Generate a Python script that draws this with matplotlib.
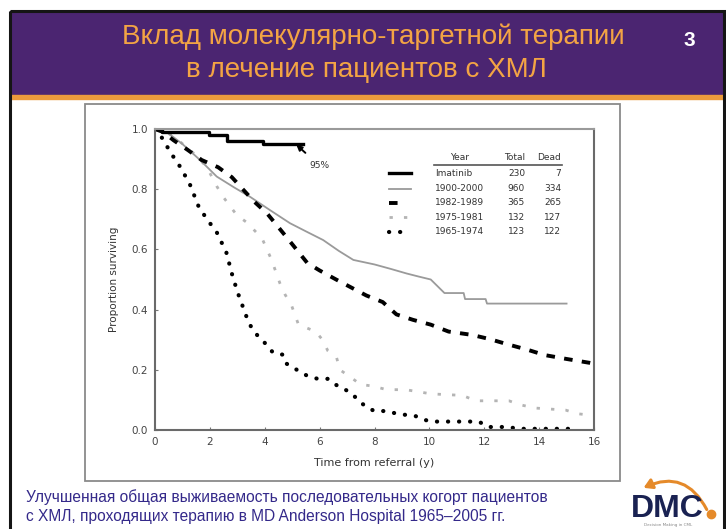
import matplotlib.pyplot as plt
from matplotlib.patches import Rectangle, FancyArrowPatch

# Kaplan-Meier style survival by cohort: years from referral vs proportion surviving
imatinib_t = [0, 0.25, 1.95, 2.61, 3.95, 5.41]
imatinib_s = [1.0, 0.99, 0.981, 0.961, 0.951, 0.951]

c1990_t = [0, 0.5, 1.0, 1.64, 2.25, 2.9, 3.46, 4.2, 4.92, 5.5, 6.13, 6.7, 7.23, 8.0, 8.6, 9.17,
           9.6, 10.05, 10.55, 11.25, 11.3, 12.05, 12.1, 15.0]
c1990_s = [1.0, 0.985, 0.95, 0.897, 0.842, 0.805, 0.775, 0.73, 0.687, 0.66, 0.631, 0.595, 0.565,
           0.55, 0.535, 0.52, 0.51, 0.50, 0.455, 0.455, 0.435, 0.435, 0.42, 0.42]

c1982_t = [0, 0.3, 0.67, 1.2, 1.7, 2.3, 2.8, 3.2, 3.6, 4.08, 4.8, 5.55, 6.0, 6.6, 7.7, 8.3, 8.8,
           9.4, 10.05, 10.7, 11.55, 12.2, 12.8, 13.6, 14.2, 15.0, 15.85, 16.0]
c1982_s = [1.0, 0.99, 0.963, 0.93, 0.897, 0.873, 0.84, 0.80, 0.76, 0.72, 0.64, 0.555, 0.53, 0.50,
           0.447, 0.425, 0.384, 0.366, 0.35, 0.327, 0.316, 0.302, 0.286, 0.266, 0.249, 0.236,
           0.223, 0.22]

c1975_t = [0, 0.5, 0.91, 1.4, 1.88, 2.25, 2.48, 2.98, 3.34, 3.9, 4.25, 4.55, 4.74, 4.98, 5.23,
           5.86, 6.1, 6.3, 6.62, 6.74, 7.1, 7.5, 7.94, 8.44, 9.13, 10.07, 11.2, 11.7, 12.9, 13.3,
           13.85, 14.97, 15.4, 16.0]
c1975_s = [1.0, 0.985, 0.958, 0.92, 0.875, 0.81, 0.775, 0.714, 0.69, 0.637, 0.565, 0.488, 0.45,
           0.413, 0.35, 0.327, 0.30, 0.263, 0.24, 0.20, 0.177, 0.151, 0.146, 0.134, 0.134, 0.12,
           0.115, 0.097, 0.097, 0.084, 0.073, 0.066, 0.054, 0.048]

c1965_t = [0, 0.26, 0.58, 0.95, 1.28, 1.6, 1.9, 2.26, 2.6, 2.8, 3.0, 3.2, 3.4, 3.6, 3.91, 4.1,
           4.3, 4.67, 4.8, 5.17, 5.55, 5.93, 6.3, 6.55, 6.87, 7.18, 7.5, 7.75, 8.0, 8.44, 8.82,
           9.5, 9.8, 10.12, 11.8, 12.15, 12.9, 13.2, 15.3]
c1965_s = [1.0, 0.97, 0.92, 0.87, 0.814, 0.74, 0.70, 0.655, 0.59, 0.52, 0.46, 0.41, 0.36, 0.327,
           0.298, 0.28, 0.257, 0.25, 0.22, 0.20, 0.18, 0.17, 0.17, 0.152, 0.138, 0.12, 0.091,
           0.074, 0.063, 0.063, 0.054, 0.046, 0.034, 0.028, 0.028, 0.01, 0.01, 0.004, 0.004]

years = ["Imatinib", "1900-2000", "1982-1989", "1975-1981", "1965-1974"]
totals = [230, 960, 365, 132, 123]
deaths = [7, 334, 265, 127, 122]

styles = [
    dict(color="black", lw=2.4, ls="-", drawstyle="steps-post"),
    dict(color="#9a9a9a", lw=1.3, ls="-"),
    dict(color="black", lw=2.8, ls=(0, (2.2, 2.4))),
    dict(color="#b4b4b4", lw=2.0, ls=(0, (1.2, 4.0))),
    dict(color="black", lw=3.0, ls=(0, (0.05, 2.6)), dash_capstyle="round"),
]
# how long each line sample in the table is (px)
sample_len = [22, 22, 13, 22, 18]

W, H = 726, 529
fig = plt.figure(figsize=(W / 100, H / 100), dpi=100)
fam = ["Liberation Sans Narrow", "Liberation Sans", "DejaVu Sans"]


def pixel_axes(z):
    a = fig.add_axes([0, 0, 1, 1], zorder=z)
    a.set_xlim(0, W)
    a.set_ylim(H, 0)
    a.axis("off")
    a.patch.set_alpha(0)
    return a


# slide frame, drawn in pixel units
bg = pixel_axes(0)
bg.add_patch(Rectangle((9.5, 11), 714, 84, color="#4b2571"))
bg.add_patch(Rectangle((9.5, 95), 714, 4, color="#eb9a3c"))
bg.add_patch(Rectangle((9.5, 11), 714, 540, fill=False, ec="#151515", lw=2.2))
bg.add_patch(Rectangle((85, 104), 535, 377, fill=False, ec="#8a8a8a", lw=1.3))

bg.text(373, 37, "Вклад молекулярно-таргетной терапии", color="#f3a444",
        fontsize=20, ha="center", va="center", family=fam)
bg.text(366, 70, "в лечение пациентов с ХМЛ", color="#f3a444",
        fontsize=20, ha="center", va="center", family=fam)
bg.text(689, 40, "3", color="white", fontsize=15, fontweight="bold",
        ha="center", va="center", family=fam)

bg.text(26, 497, "Улучшенная общая выживаемость последовательных когорт пациентов",
        color="#34298a", fontsize=11.2, ha="left", va="center", family=fam)
bg.text(26, 516, "с ХМЛ, проходящих терапию в MD Anderson Hospital 1965–2005 гг.",
        color="#34298a", fontsize=11.2, ha="left", va="center", family=fam)

# DMC logo
bg.add_patch(FancyArrowPatch((708, 512), (641, 489), connectionstyle="arc3,rad=0.5",
                             arrowstyle="-|>,head_length=5,head_width=3", color="#e58a2a",
                             lw=2.2, mutation_scale=1))
bg.text(667, 509, "DMC", color="#1a2252", fontsize=23, fontweight="bold",
        ha="center", va="center", family=fam)
bg.plot([711], [514], "o", color="#e58a2a", ms=6)
bg.text(668, 525, "Decision Making in CML", color="#888888", fontsize=3,
        ha="center", va="center")

# survival chart
ax = fig.add_axes([155 / W, 1 - 430 / H, 439 / W, 301 / H], zorder=1)
ax.plot(c1965_t, c1965_s, **styles[4])
ax.plot(c1975_t, c1975_s, **styles[3])
ax.plot(c1990_t, c1990_s, **styles[1])
ax.plot(c1982_t, c1982_s, **styles[2])
ax.plot(imatinib_t, imatinib_s, **styles[0])
ax.annotate("95%", xy=(5.15, imatinib_s[-1] - 0.003), xytext=(6.0, 0.878), fontsize=6.5,
            color="#333333", ha="center", va="center",
            arrowprops=dict(arrowstyle="-|>,head_length=0.5,head_width=0.25", color="black",
                            lw=1.4, shrinkA=6, shrinkB=0))

ax.set_xlim(0, 16)
ax.set_ylim(0, 1.0)
ax.set_xticks(range(0, 17, 2))
ax.set_yticks([0.0, 0.2, 0.4, 0.6, 0.8, 1.0])
ax.set_yticklabels(["0.0", "0.2", "0.4", "0.6", "0.8", "1.0"])
ax.tick_params(direction="in", length=2, width=0.8, colors="#777777", labelcolor="#444444",
               labelsize=7.5, pad=5)
for s in ax.spines.values():
    s.set_color("#6a6a6a")
    s.set_linewidth(1.5)
ax.spines["top"].set_color("#9a9a9a")
ax.set_xlabel("Time from referral (y)", fontsize=8, color="#333333", labelpad=8)
ax.set_ylabel("Proportion surviving", fontsize=7.5, color="#333333", labelpad=9)

# cohort table with line samples, above the chart
fg = pixel_axes(2)
hy = 157
fg.text(460, hy, "Year", fontsize=6.5, color="#333333", ha="center", va="center")
fg.text(525, hy, "Total", fontsize=6.5, color="#333333", ha="right", va="center")
fg.text(561, hy, "Dead", fontsize=6.5, color="#333333", ha="right", va="center")
fg.plot([434, 562], [165, 165], color="#555555", lw=1.2)
row_y = [173, 188.5, 202.5, 217, 231.5]
for i in range(len(years)):
    y = row_y[i]
    st = dict(styles[i])
    st.pop("drawstyle", None)
    fg.plot([389, 389 + sample_len[i]], [y, y], **st)
    fg.text(435, y, years[i], fontsize=6.5, color="#333333", ha="left", va="center")
    fg.text(525, y, str(totals[i]), fontsize=6.5, color="#333333", ha="right", va="center")
    fg.text(561, y, str(deaths[i]), fontsize=6.5, color="#333333", ha="right", va="center")

fig.savefig("out.png", dpi=100)
